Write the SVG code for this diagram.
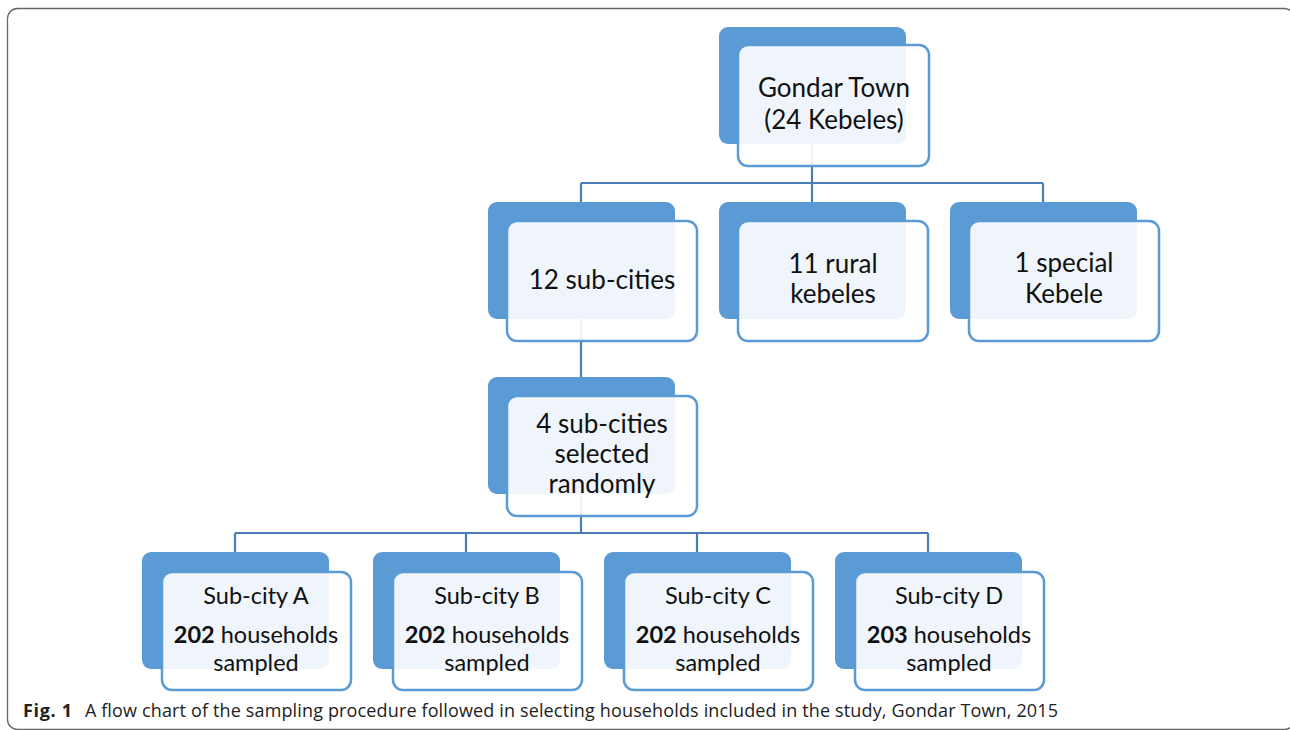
<svg xmlns="http://www.w3.org/2000/svg" width="1290" height="730" viewBox="0 0 1290 730">
<style>
.bg{fill:#5b9bd5;}
.fr{fill:#ffffff;fill-opacity:0.9;stroke:#5b9bd5;stroke-width:2.5;}
.t{font-family:Lato,"Open Sans",sans-serif;font-size:26px;fill:#111;text-anchor:middle;}
.s{font-family:Lato,"Open Sans",sans-serif;font-size:23.5px;fill:#111;text-anchor:middle;}
.c{fill:none;stroke:#4a7db5;stroke-width:2.2;}
.cap{font-family:"Open Sans",sans-serif;font-size:18px;fill:#222;}
</style>
<rect x="7.5" y="8.5" width="1287" height="721" rx="10" fill="none" stroke="#666" stroke-width="1.3"/>
<g id="connectors">
<path class="c" d="M812 144V183M581 183H1043M581 183V202M812 183V202M1043 183V202"/>
<path class="c" d="M581 319V377"/>
<path class="c" d="M581 494V533M235 533H928M235 533V552M466 533V552M697 533V552M928 533V552"/>
</g>
<g id="gondar">
<rect class="bg" x="719" y="27" width="187" height="117" rx="9"/>
<rect class="fr" x="738" y="45" width="191" height="121" rx="10"/>
<text class="t" x="834" y="97">Gondar Town</text>
<text class="t" x="834" y="129">(24 Kebeles)</text>
</g>
<g id="subcities12">
<rect class="bg" x="488" y="202" width="187" height="117" rx="9"/>
<rect class="fr" x="507" y="221" width="190" height="120" rx="10"/>
<text class="t" x="602" y="289">12 sub-cities</text>
</g>
<g id="rural">
<rect class="bg" x="719" y="202" width="187" height="117" rx="9"/>
<rect class="fr" x="738" y="221" width="190" height="120" rx="10"/>
<text class="t" x="833" y="273">11 rural</text>
<text class="t" x="833" y="303">kebeles</text>
</g>
<g id="special">
<rect class="bg" x="950" y="202" width="187" height="117" rx="9"/>
<rect class="fr" x="969" y="221" width="190" height="120" rx="10"/>
<text class="t" x="1064" y="272">1 special</text>
<text class="t" x="1064" y="303">Kebele</text>
</g>
<g id="selected4">
<rect class="bg" x="488" y="377" width="187" height="117" rx="9"/>
<rect class="fr" x="507" y="396" width="190" height="120" rx="10"/>
<text class="t" x="602" y="433">4 sub-cities</text>
<text class="t" x="602" y="463">selected</text>
<text class="t" x="602" y="493">randomly</text>
</g>
<g id="subcityA">
<rect class="bg" x="142" y="552" width="187" height="117" rx="9"/>
<rect class="fr" x="162" y="572" width="189" height="118" rx="10"/>
<text class="s" x="256" y="604">Sub-city A</text>
<text class="s" x="256" y="643"><tspan font-weight="bold">202</tspan> households</text>
<text class="s" x="256" y="671">sampled</text>
</g>
<g id="subcityB">
<rect class="bg" x="373" y="552" width="187" height="117" rx="9"/>
<rect class="fr" x="393" y="572" width="189" height="118" rx="10"/>
<text class="s" x="487" y="604">Sub-city B</text>
<text class="s" x="487" y="643"><tspan font-weight="bold">202</tspan> households</text>
<text class="s" x="487" y="671">sampled</text>
</g>
<g id="subcityC">
<rect class="bg" x="604" y="552" width="187" height="117" rx="9"/>
<rect class="fr" x="624" y="572" width="189" height="118" rx="10"/>
<text class="s" x="718" y="604">Sub-city C</text>
<text class="s" x="718" y="643"><tspan font-weight="bold">202</tspan> households</text>
<text class="s" x="718" y="671">sampled</text>
</g>
<g id="subcityD">
<rect class="bg" x="835" y="552" width="187" height="117" rx="9"/>
<rect class="fr" x="855" y="572" width="189" height="118" rx="10"/>
<text class="s" x="949" y="604">Sub-city D</text>
<text class="s" x="949" y="643"><tspan font-weight="bold">203</tspan> households</text>
<text class="s" x="949" y="671">sampled</text>
</g>
<g id="caption">
<text class="cap" x="23" y="717" font-weight="bold" textLength="49">Fig. 1</text>
<text class="cap" x="85" y="717" textLength="973">A flow chart of the sampling procedure followed in selecting households included in the study, Gondar Town, 2015</text>
</g>
</svg>
